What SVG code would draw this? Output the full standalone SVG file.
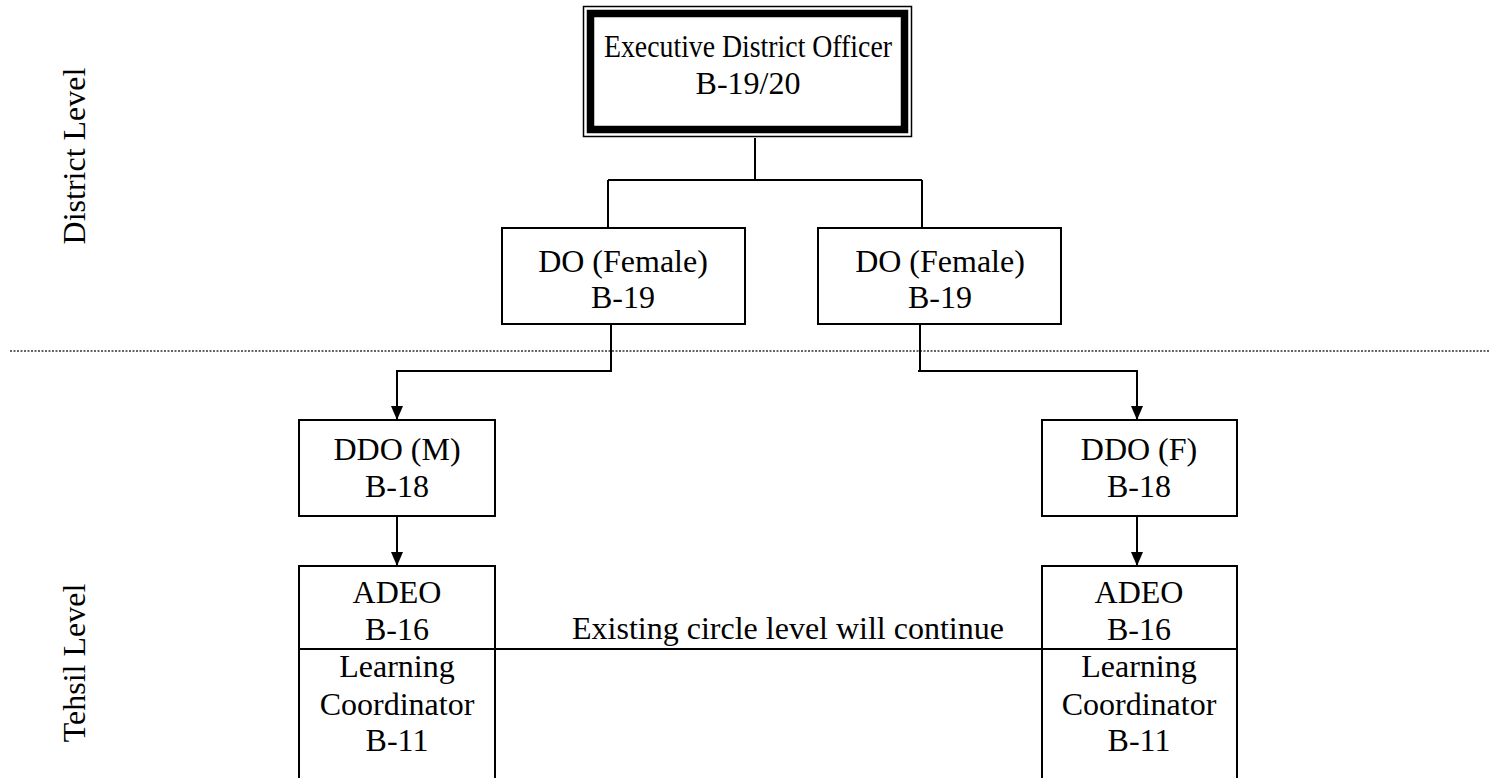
<svg xmlns="http://www.w3.org/2000/svg" width="1490" height="778" viewBox="0 0 1490 778">
  <defs>
    <marker id="arrow" viewBox="0 0 14 12" refX="14" refY="6" markerWidth="14" markerHeight="12" markerUnits="userSpaceOnUse" orient="auto">
      <path d="M0 0 L14 6 L0 12 Z" fill="#000"/>
    </marker>
    <style>
      .box { fill: #fff; stroke: #000; stroke-width: 2; }
      .lbl { font-family: "Liberation Serif", "Times New Roman", serif; font-size: 32px; fill: #000; text-anchor: middle; }
      .wire { fill: none; stroke: #000; stroke-width: 2; }
      .sep { stroke: #333; stroke-width: 1.3; stroke-dasharray: 2 1.5; }
    </style>
  </defs>
  <rect width="1490" height="778" fill="#fff"/>

  <!-- level separator -->
  <line class="sep" x1="10" y1="351" x2="1490" y2="351"/>

  <!-- level captions -->
  <text class="lbl" transform="translate(85 156) rotate(-90)">District Level</text>
  <text class="lbl" transform="translate(85 663) rotate(-90)">Tehsil Level</text>

  <!-- connectors -->
  <g id="connectors">
    <path class="wire" d="M755 138 V180 M608 180 H922 M608 180 V228 M922 180 V228"/>
    <path class="wire" d="M611 324 V371 H397 V420" marker-end="url(#arrow)"/>
    <path class="wire" d="M920 324 V371 M918 371 H1137 V420" marker-end="url(#arrow)"/>
    <path class="wire" d="M397 516 V566" marker-end="url(#arrow)"/>
    <path class="wire" d="M1137 516 V566" marker-end="url(#arrow)"/>
    <line class="wire" x1="299" y1="649" x2="1237" y2="649"/>
  </g>

  <g id="edo">
    <rect x="583.5" y="6.5" width="328" height="130" fill="#fff" stroke="#000" stroke-width="1.5"/>
    <rect x="590.5" y="13.5" width="314" height="116" fill="none" stroke="#000" stroke-width="7.5"/>
    <text class="lbl" x="748" y="57" textLength="288" lengthAdjust="spacingAndGlyphs">Executive District Officer</text>
    <text class="lbl" x="748" y="94">B-19/20</text>
  </g>

  <g id="do-left">
    <rect class="box" x="502" y="228" width="243" height="96"/>
    <text class="lbl" x="623" y="272">DO (Female)</text>
    <text class="lbl" x="623" y="308">B-19</text>
  </g>

  <g id="do-right">
    <rect class="box" x="818" y="228" width="243" height="96"/>
    <text class="lbl" x="940" y="272">DO (Female)</text>
    <text class="lbl" x="940" y="308">B-19</text>
  </g>

  <g id="ddo-m">
    <rect class="box" x="299" y="420" width="196" height="96"/>
    <text class="lbl" x="397" y="460">DDO (M)</text>
    <text class="lbl" x="397" y="497">B-18</text>
  </g>

  <g id="ddo-f">
    <rect class="box" x="1042" y="420" width="195" height="96"/>
    <text class="lbl" x="1139" y="460">DDO (F)</text>
    <text class="lbl" x="1139" y="497">B-18</text>
  </g>

  <g id="adeo-m">
    <path class="wire" d="M299 790 V566 H495 V790"/>
    <text class="lbl" x="397" y="603">ADEO</text>
    <text class="lbl" x="397" y="640">B-16</text>
    <text class="lbl" x="397" y="677">Learning</text>
    <text class="lbl" x="397" y="715">Coordinator</text>
    <text class="lbl" x="397" y="751">B-11</text>
  </g>

  <g id="adeo-f">
    <path class="wire" d="M1042 790 V566 H1237 V790"/>
    <text class="lbl" x="1139" y="603">ADEO</text>
    <text class="lbl" x="1139" y="640">B-16</text>
    <text class="lbl" x="1139" y="677">Learning</text>
    <text class="lbl" x="1139" y="715">Coordinator</text>
    <text class="lbl" x="1139" y="751">B-11</text>
  </g>

  <g id="note">
    <text class="lbl" x="788" y="639">Existing circle level will continue</text>
  </g>
</svg>
